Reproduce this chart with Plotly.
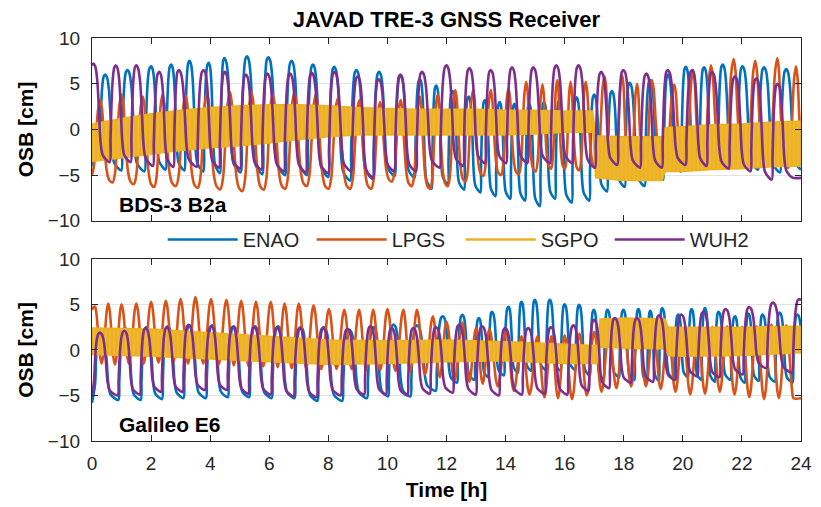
import plotly.graph_objects as go

T_END = 24.0

# ---------------- BDS-3 B2a (upper panel) ----------------
# per-cycle peak times [h], peak values [cm], following trough (minimum) values [cm]
b2a_enao_t = [0.45, 1.20, 2.00, 2.68, 3.30, 3.95, 4.48, 5.25, 5.97, 6.76,
              7.48, 8.20, 8.95, 9.72, 10.45, 11.10, 11.65, 12.20, 12.75, 13.30,
              13.80, 14.30, 14.80, 15.30, 15.82, 16.40, 17.00, 17.60, 18.20, 18.90,
              19.50, 20.10, 20.72, 21.35, 22.02, 22.75, 23.50]
b2a_enao_pk = [6.0, 6.5, 6.9, 7.1, 7.5, 7.3, 7.8, 8.0, 7.9, 7.5,
               7.1, 6.85, 6.5, 6.3, 5.9, 5.5, 4.8, 4.2, 3.6, 3.2,
               3.0, 2.8, 2.8, 3.0, 3.2, 3.5, 3.8, 4.2, 5.1, 5.4,
               6.0, 6.85, 6.8, 7.1, 6.9, 6.8, 6.6]
b2a_enao_tr = [-4.5, -4.6, -4.4, -4.5, -4.6, -4.8, -4.7, -4.9, -5.0, -5.0,
               -5.2, -5.6, -5.4, -5.1, -5.3, -6.5, -6.0, -6.6, -6.9, -7.3,
               -7.6, -7.8, -8.4, -7.6, -8.0, -7.8, -6.8, -6.3, -6.2, -5.5,
               -4.6, -4.3, -4.0, -4.2, -4.4, -4.7, -4.5]
b2a_enao_start = -4.0

b2a_lpgs_t = [0.28, 1.00, 1.72, 2.39, 3.17, 3.89, 4.67, 5.40, 6.12, 6.85,
              7.58, 8.32, 9.05, 9.75, 10.45, 11.10, 11.70, 12.30, 12.90, 13.50,
              14.10, 14.70, 15.25, 15.75, 16.20, 16.71, 17.35, 17.95, 18.45, 18.95,
              19.71, 20.35, 20.95, 21.72, 22.45, 23.20, 23.83]
b2a_lpgs_pk = [3.2, 3.8, 3.6, 3.8, 3.7, 4.0, 4.1, 4.1, 3.9, 4.1,
               3.9, 3.4, 3.2, 3.0, 3.2, 3.6, 3.8, 4.3, 4.3, 4.3,
               4.5, 5.2, 4.9, 5.4, 5.2, 5.2, 5.8, 5.9, 5.0, 5.4,
               4.9, 6.5, 7.0, 7.7, 7.5, 7.8, 6.9]
b2a_lpgs_tr = [-5.8, -6.0, -6.3, -6.2, -6.4, -6.55, -6.75, -6.6, -6.5, -6.2,
               -6.5, -6.5, -6.5, -5.7, -6.2, -6.5, -6.2, -5.7, -5.1, -5.0,
               -4.9, -4.6, -4.3, -4.3, -4.5, -4.3, -4.2, -4.2, -4.3, -4.1,
               -4.0, -4.2, -3.9, -3.9, -4.0, -4.2, -4.4]
b2a_lpgs_start = -5.0

b2a_wuh2_t = [0.05, 0.81, 1.50, 2.28, 2.94, 3.78, 4.50, 5.21, 5.94, 6.71,
              7.44, 8.21, 9.00, 9.71, 10.44, 11.17, 12.00, 12.78, 13.50, 14.22,
              14.94, 15.72, 16.47, 17.24, 17.99, 18.77, 19.49, 20.32, 20.99, 21.77,
              22.49, 23.21]
b2a_wuh2_pk = [7.2, 7.0, 7.0, 6.3, 6.5, 6.5, 6.3, 6.0, 6.1, 6.1,
               6.2, 6.3, 5.8, 5.5, 6.0, 6.3, 7.0, 6.7, 6.5, 6.8,
               6.8, 7.0, 7.0, 6.3, 6.5, 6.1, 6.5, 6.5, 6.3, 5.8,
               5.6, 5.0]
b2a_wuh2_tr = [-3.6, -3.6, -4.0, -4.1, -4.1, -4.2, -4.3, -4.4, -4.6, -4.7,
               -4.8, -4.6, -5.3, -4.6, -4.6, -4.2, -4.0, -3.7, -3.7, -3.7,
               -3.7, -3.7, -4.2, -3.9, -4.2, -4.2, -3.9, -4.0, -4.3, -4.6,
               -5.5, -5.3]
b2a_wuh2_start = 7.0

# SGPO: fast oscillation drawn as its envelope band
b2a_sgpo_t = [0, 1, 2, 3, 4, 5, 6, 7, 8, 9, 10, 11, 12, 13, 14, 15, 16, 16.95,
              17.05, 18, 19.3, 19.4, 20, 21, 22, 23, 24]
b2a_sgpo_hi = [0.6, 1.2, 1.7, 2.1, 2.4, 2.6, 2.7, 2.7, 2.6, 2.4, 2.3, 2.2, 2.2, 2.2,
               2.1, 2.1, 2.0, 2.0, -0.7, -0.8, -0.8, 0.2, 0.3, 0.5, 0.6, 0.8, 0.9]
b2a_sgpo_lo = [-3.5, -3.1, -2.7, -2.3, -2.0, -1.8, -1.5, -1.1, -0.8, -0.6, -0.6, -0.6,
               -0.6, -0.6, -0.6, -0.5, -0.3, -0.3, -5.3, -5.6, -5.6, -4.6, -4.6, -4.4,
               -4.3, -4.1, -4.0]

# ---------------- Galileo E6 (lower panel) ----------------
e6_enao_t = [0.30, 1.12, 1.85, 2.57, 3.30, 4.07, 4.80, 5.52, 6.30, 7.07,
             7.85, 8.71, 9.54, 10.21, 11.00, 11.88, 12.54, 13.10, 13.54, 14.10,
             14.54, 14.99, 15.50, 16.00, 16.49, 16.99, 17.45, 17.99, 18.50, 18.90,
             19.30, 19.85, 20.30, 20.75, 21.21, 21.77, 22.22, 22.70, 23.28, 23.88]
e6_enao_pk = [2.3, 2.4, 2.5, 2.6, 2.7, 2.7, 2.6, 2.6, 2.6, 2.5,
              2.5, 2.2, 2.5, 2.8, 2.7, 3.7, 3.85, 3.5, 4.2, 4.75,
              5.3, 5.5, 5.5, 5.0, 4.95, 4.4, 4.4, 4.4, 4.5, 4.3,
              4.6, 3.9, 4.5, 4.6, 4.2, 3.7, 4.0, 3.9, 4.1, 3.9]
e6_enao_tr = [-5.5, -5.5, -5.4, -5.3, -5.3, -5.2, -5.2, -5.3, -5.3, -5.6,
              -5.6, -5.3, -5.1, -5.1, -4.5, -3.6, -3.3, -3.0, -2.8, -2.5,
              -2.3, -2.2, -2.3, -2.2, -2.8, -3.2, -3.0, -3.3, -3.5, -3.4,
              -3.2, -3.0, -3.3, -3.5, -3.3, -3.6, -3.4, -3.5, -3.6, -3.0]
e6_enao_start = -5.8

e6_lpgs_t = [0.10, 0.55, 1.00, 1.50, 2.00, 2.50, 3.00, 3.50, 4.03, 4.55,
             5.05, 5.55, 6.05, 6.52, 7.00, 7.50, 8.02, 8.54, 9.04, 9.52,
             10.00, 10.54, 11.00, 11.54, 12.00, 12.54, 13.00, 13.45, 14.02, 14.54,
             15.08, 15.55, 16.00, 16.50, 17.00, 17.50, 18.00, 18.50, 19.00, 19.50,
             20.00, 20.50, 21.00, 21.50, 22.00, 22.50, 23.00, 23.50]
e6_lpgs_pk = [4.75, 5.1, 5.0, 5.1, 5.3, 5.4, 5.6, 5.8, 5.6, 5.5,
              5.4, 5.3, 5.3, 5.1, 5.1, 4.9, 4.5, 4.4, 4.4, 4.4,
              4.5, 4.4, 4.4, 3.7, 3.1, 3.0, 2.4, 2.3, 2.0, 1.5,
              1.5, 1.5, 1.6, 1.8, 2.0, 2.2, 2.4, 2.6, 2.8, 2.5,
              2.4, 2.4, 2.5, 2.6, 2.5, 2.6, 2.8, 2.7]
e6_lpgs_tr = [-1.5, -1.6, -1.5, -1.5, -1.4, -1.4, -1.5, -1.5, -1.6, -1.7,
              -1.8, -1.8, -1.9, -2.0, -2.0, -2.1, -2.1, -2.1, -2.2, -2.2,
              -2.3, -2.4, -2.7, -3.0, -3.4, -3.5, -3.7, -4.0, -4.5, -4.9,
              -5.2, -5.3, -5.4, -5.0, -4.6, -4.2, -4.0, -4.0, -4.3, -4.6,
              -4.9, -4.8, -4.6, -4.9, -5.2, -5.4, -5.3, -5.3]
e6_lpgs_start = 4.4

e6_wuh2_t = [0.27, 1.10, 1.82, 2.54, 3.27, 4.04, 4.77, 5.49, 6.27, 7.04,
             7.82, 8.65, 9.43, 10.15, 10.88, 11.65, 12.43, 13.21, 13.99, 14.77,
             15.54, 16.30, 17.00, 17.70, 18.45, 19.20, 19.95, 20.70, 21.45, 22.25,
             23.05, 23.95]
e6_wuh2_pk = [1.9, 2.1, 2.4, 2.5, 2.75, 2.6, 2.5, 2.5, 2.4, 2.4,
              2.4, 2.3, 2.6, 2.4, 2.4, 2.5, 2.75, 2.6, 2.4, 2.4,
              2.5, 2.7, 3.3, 3.5, 3.5, 3.8, 3.9, 4.2, 4.5, 4.7,
              5.2, 5.6]
e6_wuh2_tr = [-5.0, -4.9, -4.6, -4.6, -4.4, -4.4, -4.8, -4.9, -5.1, -5.2,
              -5.0, -4.9, -4.9, -5.0, -4.8, -4.7, -4.9, -5.0, -4.9, -4.8,
              -4.9, -4.5, -4.2, -3.6, -3.5, -3.3, -2.9, -3.0, -2.7, -2.0,
              -2.5, -2.5]
e6_wuh2_start = -5.1

e6_sgpo_t = [0, 2, 4, 6, 8, 10, 12, 14, 16, 17.1, 17.2, 18, 19.4, 19.5, 20, 22, 24]
e6_sgpo_hi = [2.4, 2.3, 1.9, 1.5, 1.1, 1.0, 1.1, 0.9, 0.6, 0.5, 3.4, 3.5, 3.4, 2.5, 2.5, 2.5, 2.6]
e6_sgpo_lo = [-0.5, -0.7, -1.0, -1.3, -1.6, -1.5, -1.3, -1.2, -1.5, -1.5, 0.3, 0.2, 0.1, -0.6, -0.7, -0.6, -0.3]

station_names = ["ENAO", "LPGS", "SGPO", "WUH2"]
colors = {"ENAO": "#0072BD", "LPGS": "#D95319", "SGPO": "#EDB120", "WUH2": "#7E2F8E"}

# cycle shape templates: (fall vertices, phase of minimum, rise vertices); phase in fraction of cycle
SQUARE = ([(0.08, 0.97), (0.16, 0.85), (0.24, 0.55), (0.31, 0.22), (0.40, 0.08), (0.55, 0.03)],
          0.72, [(0.76, 0.25), (0.80, 0.58), (0.86, 0.86), (0.93, 0.98)])
PEAKY = ([(0.08, 0.9), (0.18, 0.5), (0.30, 0.15), (0.42, 0.03)], 0.58,
         [(0.70, 0.12), (0.80, 0.5), (0.90, 0.88)])
SINE = ([(0.10, 0.9), (0.25, 0.5), (0.40, 0.1)], 0.50, [(0.60, 0.1), (0.75, 0.5), (0.90, 0.9)])


def build(tp, pk, tr, start, tmpl):
    fall, phimin, rise = tmpl
    n = min(len(tp), len(pk), len(tr))
    xs, ys = [0.0], [start]
    d0 = tp[1] - tp[0]
    for f, s in rise:
        t = tp[0] - (1 - f) * d0
        if t > 0:
            xs.append(t); ys.append(start + s * (pk[0] - start))
    for i in range(n):
        xs.append(tp[i]); ys.append(pk[i])
        last = i == n - 1
        d = (tp[i] - tp[i - 1]) if last else (tp[i + 1] - tp[i])
        T = tr[i]
        for f, s in fall:
            xs.append(tp[i] + f * d); ys.append(T + s * (pk[i] - T))
        xs.append(tp[i] + phimin * d); ys.append(T)
        if not last:
            for f, s in rise:
                xs.append(tp[i] + f * d); ys.append(T + s * (pk[i + 1] - T))
        else:
            xs.append(T_END + 1); ys.append(T)
    # clip to the end of the day
    ox, oy = [], []
    for k in range(len(xs)):
        if xs[k] <= T_END:
            ox.append(xs[k]); oy.append(ys[k])
        else:
            x0, y0 = ox[-1], oy[-1]
            w = (T_END - x0) / (xs[k] - x0)
            ox.append(T_END); oy.append(y0 + w * (ys[k] - y0))
            break
    return ox, oy


fig = go.Figure()

panels = [
    ("x", "y", {"ENAO": (b2a_enao_t, b2a_enao_pk, b2a_enao_tr, b2a_enao_start, SQUARE),
                "LPGS": (b2a_lpgs_t, b2a_lpgs_pk, b2a_lpgs_tr, b2a_lpgs_start, PEAKY),
                "WUH2": (b2a_wuh2_t, b2a_wuh2_pk, b2a_wuh2_tr, b2a_wuh2_start, SQUARE)},
     (b2a_sgpo_t, b2a_sgpo_hi, b2a_sgpo_lo)),
    ("x2", "y2", {"ENAO": (e6_enao_t, e6_enao_pk, e6_enao_tr, e6_enao_start, SQUARE),
                  "LPGS": (e6_lpgs_t, e6_lpgs_pk, e6_lpgs_tr, e6_lpgs_start, SINE),
                  "WUH2": (e6_wuh2_t, e6_wuh2_pk, e6_wuh2_tr, e6_wuh2_start, SQUARE)},
     (e6_sgpo_t, e6_sgpo_hi, e6_sgpo_lo)),
]

LW = 2.6
for pi, (xa, ya, series, band) in enumerate(panels):
    for name in station_names:
        if name == "SGPO":
            bt, bhi, blo = band
            fig.add_trace(go.Scatter(x=bt, y=blo, xaxis=xa, yaxis=ya, mode="lines",
                                     line=dict(color=colors[name], width=1.5),
                                     showlegend=False, hoverinfo="skip"))
            fig.add_trace(go.Scatter(x=bt, y=bhi, xaxis=xa, yaxis=ya, mode="lines",
                                     line=dict(color=colors[name], width=1.5),
                                     fill="tonexty", fillcolor=colors[name],
                                     fillpattern=dict(shape="|", bgcolor=colors[name],
                                                      fgcolor="#F4CB6A", size=4, solidity=0.25),
                                     showlegend=False, hoverinfo="skip"))
            if pi == 0:
                fig.add_trace(go.Scatter(x=[None], y=[None], xaxis=xa, yaxis=ya, mode="lines",
                                         name=name, line=dict(color=colors[name], width=LW)))
            continue
        tp, pk, tr, st, tmpl = series[name]
        sx, sy = build(tp, pk, tr, st, tmpl)
        fig.add_trace(go.Scatter(x=sx, y=sy, xaxis=xa, yaxis=ya, mode="lines", name=name,
                                 line=dict(color=colors[name], width=LW, shape="spline",
                                           smoothing=0.9),
                                 showlegend=(pi == 0)))

FONT = "Liberation Sans, Arial, sans-serif"
axis_common = dict(range=[0, 24], tickvals=list(range(0, 25, 2)), ticks="inside", ticklen=6,
                   tickwidth=1, tickcolor="#262626", showline=True, linecolor="#262626",
                   linewidth=1.2, mirror="allticks", showgrid=False, zeroline=False,
                   ticklabeloverflow="allow", ticklabelstandoff=5,
                   tickfont=dict(family=FONT, size=19, color="#262626"))
yaxis_common = dict(range=[-10, 10], tickvals=[-10, -5, 0, 5, 10], ticks="inside", ticklen=6,
                    tickwidth=1, tickcolor="#262626", showline=True, linecolor="#262626",
                    linewidth=1.2, mirror="allticks", showgrid=True, gridcolor="#e3e3e3",
                    gridwidth=1, zeroline=False, ticklabelstandoff=7,
                    tickfont=dict(family=FONT, size=19, color="#262626"),
                    title=dict(text="<b>OSB [cm]</b>", font=dict(family=FONT, size=21, color="black"),
                               standoff=8))

fig.update_layout(
    width=821, height=507,
    margin=dict(l=92, r=9, t=38, b=64),
    paper_bgcolor="white", plot_bgcolor="white",
    font=dict(family=FONT, size=19, color="#262626"),
    title=dict(text="<b>JAVAD TRE-3 GNSS Receiver</b>", x=0.5, xref="paper", xanchor="center",
               y=1 - 19 / 507, yref="container", yanchor="middle",
               font=dict(family=FONT, size=22, color="black")),
    xaxis=dict(axis_common, anchor="y", domain=[0, 1], showticklabels=False),
    yaxis=dict(yaxis_common, anchor="x", domain=[0.5464, 1]),
    xaxis2=dict(axis_common, anchor="y2", domain=[0, 1],
                title=dict(text="<b>Time [h]</b>", font=dict(family=FONT, size=21, color="black"),
                           standoff=9)),
    yaxis2=dict(yaxis_common, anchor="x2", domain=[0, 0.4519]),
    legend=dict(orientation="h", x=0.52, xanchor="center", y=0.5, yanchor="middle",
                traceorder="normal",
                font=dict(family=FONT, size=20, color="#262626"), bgcolor="rgba(0,0,0,0)",
                itemwidth=70, entrywidth=64, entrywidthmode="pixels", tracegroupgap=0),
    showlegend=True,
    annotations=[
        dict(text="<b>BDS-3 B2a</b>", xref="x", yref="y", x=0.85, y=-8.2, xanchor="left",
             yanchor="middle", showarrow=False, font=dict(family=FONT, size=21, color="black")),
        dict(text="<b>Galileo E6</b>", xref="x2", yref="y2", x=0.85, y=-8.2, xanchor="left",
             yanchor="middle", showarrow=False, font=dict(family=FONT, size=21, color="black")),
    ],
)

fig.write_html("out.html")
